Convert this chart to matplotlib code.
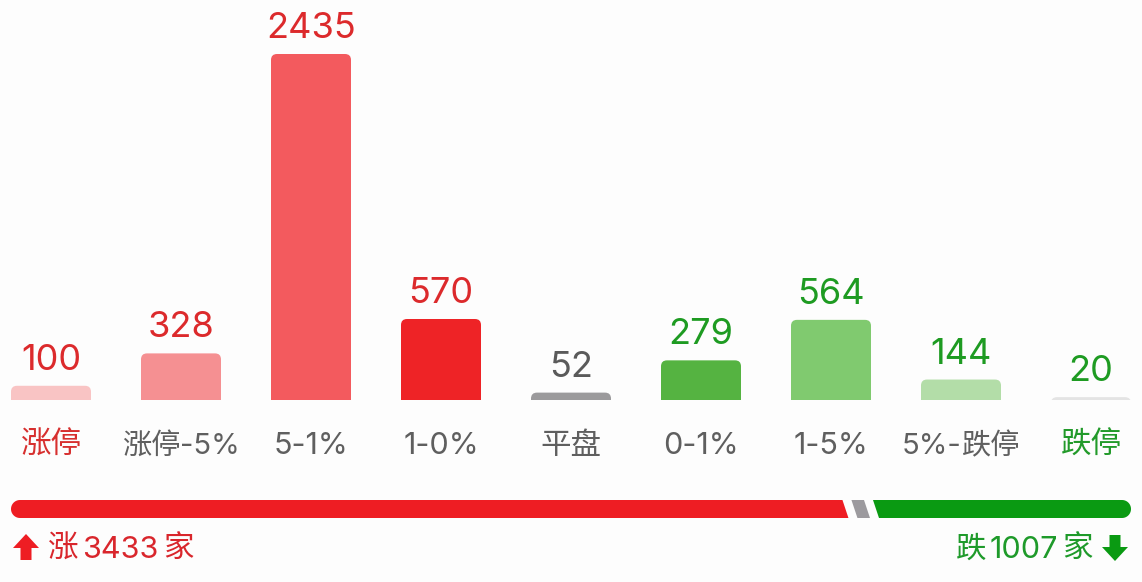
import numpy as np
import matplotlib
matplotlib.use('Agg')
import matplotlib.pyplot as plt
from matplotlib.patches import FancyBboxPatch, Polygon
from matplotlib.transforms import offset_copy

plt.rcParams['font.family'] = ['Noto Sans CJK SC', 'DejaVu Sans']

# ---- data ----
categories = ['涨停', '涨停-5%', '5-1%', '1-0%', '平盘', '0-1%', '1-5%', '5%-跌停', '跌停']
values = [100, 328, 2435, 570, 52, 279, 564, 144, 20]
bar_colors = ['#F9C4C4', '#F59092', '#F35A5E', '#EE2326', '#9B9A9C',
              '#55B341', '#80CA6F', '#B3DDA8', '#E4E4E4']
value_colors = ['#DC2A2C'] * 4 + ['#5A5A5A'] + ['#1E9B22'] * 4
label_colors = ['#D7302F'] + ['#5F5F5F'] * 7 + ['#229A2A']
up_label, down_label = '涨', '跌'
unit = '家'

up_total = sum(values[:4])
flat_total = values[4]
down_total = sum(values[5:])

RED = '#EE1D23'
GRAY = '#9C9A9E'
GREEN = '#0A9A12'
RED_TXT = '#D9262C'
GREEN_TXT = '#1E9A2A'

LAT = ['Inter', 'DejaVu Sans']
CJK = ['Noto Sans CJK SC', 'DejaVu Sans']

W, H = 1142, 582
fig = plt.figure(figsize=(W / 100, H / 100), dpi=100)
fig.patch.set_facecolor('#FDFDFD')
renderer = fig.canvas.get_renderer()


def is_cjk(ch):
    return ord(ch) > 0x2E80


def split_runs(s):
    runs = []
    for ch in s:
        c = is_cjk(ch)
        if runs and runs[-1][1] == c:
            runs[-1][0] += ch
        else:
            runs.append([ch, c])
    return runs


def measure(runs, cjk_fs, lat_fs):
    widths = []
    props = []
    for run, c in runs:
        p = dict(fontsize=cjk_fs if c else lat_fs, family=CJK if c else LAT)
        t = fig.text(0, 0, run, **p)
        widths.append(t.get_window_extent(renderer).width)
        t.remove()
        props.append(p)
    return widths, props


def mixed_text(ax, x, y, s, color, cjk_fs, lat_fs, ha='center', dx=0, dy=0,
               transform=None, sep=0, max_w=None):
    if transform is None:
        transform = ax.transData
    runs = split_runs(s)
    widths, props = measure(runs, cjk_fs, lat_fs)
    total = sum(widths) + sep * (len(runs) - 1)
    if max_w is not None and total > max_w:
        k = max_w / total
        widths, props = measure(runs, cjk_fs * k, lat_fs * k)
        total = sum(widths) + sep * (len(runs) - 1)
    start = {'left': 0, 'center': -total / 2, 'right': -total}[ha]
    cur = start
    for (run, c), p, w in zip(runs, props, widths):
        tr = offset_copy(transform, fig=fig, x=dx + cur, y=dy, units='dots')
        ax.text(x, y, run, transform=tr, ha='left', va='baseline', color=color, **p)
        cur += w + sep


# ---- bar axes ----
base_px = 400          # baseline pixel row
top_px = 54            # top of tallest bar
step_px = 130
first_px = 51
bw_px = 80
ax = fig.add_axes([0, (H - base_px) / H, 1, base_px / H])
ax.set_facecolor('none')
ax.set_xlim(-first_px / step_px, (W - first_px) / step_px)
ymax = max(values) * base_px / (base_px - top_px)
ax.set_ylim(0, ymax)
ax.axis('off')

px_x = 1 / step_px
px_y = ymax / base_px
r = 6
bw = bw_px * px_x
for i, (v, c) in enumerate(zip(values, bar_colors)):
    ext = 2 * r * px_y
    p = FancyBboxPatch((i - bw / 2, -ext), bw, v + ext,
                       boxstyle=f"round,pad=0,rounding_size={r * px_x}",
                       mutation_aspect=px_y / px_x, fc=c, ec='none')
    ax.add_patch(p)
    mixed_text(ax, i, v, str(v), value_colors[i], 26, 26, ha='center', dy=16)
    mixed_text(ax, i, 0, categories[i], label_colors[i], 22, 22, ha='center',
               dy=-54, max_w=118)

# ---- bottom summary bar ----
ov = fig.add_axes([0, 0, 1, 1])
ov.set_facecolor('none')
ov.set_xlim(0, W)
ov.set_ylim(H, 0)
ov.axis('off')

x0, x1 = 11, 1131
gap = 9
yt, yb = 500, 518
rr = (yb - yt) / 2
cy = (yt + yb) / 2
s = 3
total = up_total + flat_total + down_total
avail = x1 - x0 - 2 * gap - 2 * rr
e1 = x0 + rr + up_total / total * avail - 3
g0 = e1 + gap
g1 = g0 + flat_total / total * avail
s2 = g1 + gap

th = np.linspace(np.pi / 2, 3 * np.pi / 2, 30)
left_arc = np.column_stack([x0 + rr + rr * np.cos(th), cy + rr * np.sin(th)])
red_pts = np.vstack([[[x0 + rr, yt], [e1 - s, yt], [e1 + s, yb], [x0 + rr, yb]], left_arc])
ov.add_patch(Polygon(red_pts, closed=True, fc=RED, ec='none'))

ov.add_patch(Polygon([[g0 - s, yt], [g1 - s, yt], [g1 + s, yb], [g0 + s, yb]],
                     closed=True, fc=GRAY, ec='none'))

th2 = np.linspace(-np.pi / 2, np.pi / 2, 30)
right_arc = np.column_stack([x1 - rr + rr * np.cos(th2), cy + rr * np.sin(th2)])
green_pts = np.vstack([[[s2 - s, yt], [x1 - rr, yt]], right_arc, [[x1 - rr, yb], [s2 + s, yb]]])
ov.add_patch(Polygon(green_pts, closed=True, fc=GREEN, ec='none'))


def arrow(cx, ytop, ybot, up, color):
    hw, sw = 13, 5.5
    if up:
        mid = ytop + 14
        pts = [[cx, ytop], [cx + hw, mid], [cx + sw, mid], [cx + sw, ybot],
               [cx - sw, ybot], [cx - sw, mid], [cx - hw, mid]]
    else:
        mid = ybot - 14
        pts = [[cx, ybot], [cx + hw, mid], [cx + sw, mid], [cx + sw, ytop],
               [cx - sw, ytop], [cx - sw, mid], [cx - hw, mid]]
    ov.add_patch(Polygon(pts, closed=True, fc=color, ec='none'))


arrow(26, 534, 560, True, RED)
arrow(1115, 535, 561, False, GREEN)

mixed_text(ov, 48, 558, f'{up_label}{up_total}{unit}', RED_TXT, 22, 22,
           ha='left', sep=4)
mixed_text(ov, 1093, 558, f'{down_label}{down_total}{unit}', GREEN_TXT, 22, 22,
           ha='right', sep=4)

fig.savefig('out.png', dpi=100, facecolor=fig.get_facecolor())
